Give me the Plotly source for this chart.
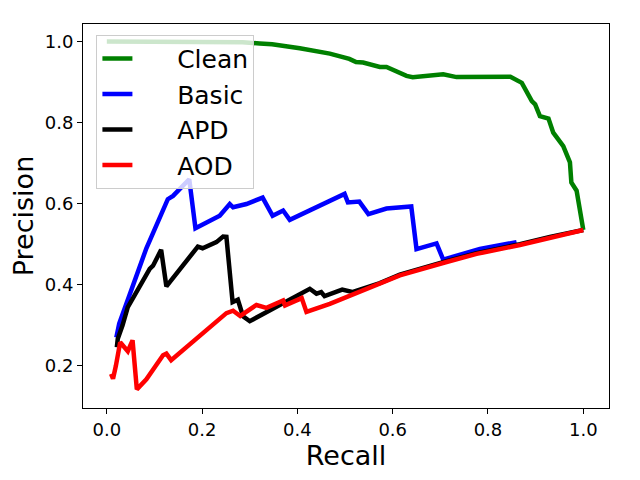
import plotly.graph_objects as go

# precision-recall curves
clean_recall = [0.0, 0.2, 0.285, 0.321, 0.347, 0.405, 0.468, 0.509, 0.523, 0.538, 0.573, 0.587,
                0.629, 0.642, 0.706, 0.734, 0.847, 0.871, 0.881, 0.892, 0.899, 0.909, 0.927,
                0.937, 0.958, 0.972, 0.975, 0.986, 1.0]
clean_precision = [1.0, 1.0, 0.998, 0.995, 0.993, 0.983, 0.970, 0.957, 0.949, 0.948, 0.937, 0.937,
                   0.915, 0.912, 0.919, 0.912, 0.913, 0.898, 0.878, 0.853, 0.845, 0.816, 0.810,
                   0.775, 0.742, 0.702, 0.652, 0.632, 0.535]

basic_recall = [0.020, 0.026, 0.083, 0.128, 0.139, 0.173, 0.186, 0.216, 0.237, 0.258, 0.265,
                0.293, 0.327, 0.348, 0.370, 0.384, 0.499, 0.506, 0.530, 0.549, 0.587, 0.639,
                0.650, 0.692, 0.706, 0.783, 0.860]
basic_precision = [0.270, 0.304, 0.490, 0.611, 0.619, 0.660, 0.539, 0.558, 0.570, 0.599, 0.591,
                   0.599, 0.615, 0.570, 0.583, 0.560, 0.624, 0.603, 0.605, 0.574, 0.588, 0.593,
                   0.488, 0.502, 0.462, 0.488, 0.505]

apd_recall = [0.021, 0.023, 0.033, 0.044, 0.054, 0.090, 0.097, 0.114, 0.125, 0.191, 0.201, 0.222,
              0.230, 0.244, 0.251, 0.264, 0.275, 0.286, 0.300, 0.426, 0.440, 0.450, 0.457, 0.494,
              0.515, 0.573, 0.615, 0.713, 0.776, 0.867, 0.93, 1.0]
apd_precision = [0.246, 0.267, 0.300, 0.345, 0.365, 0.439, 0.447, 0.486, 0.396, 0.494, 0.490, 0.501,
                 0.505, 0.519, 0.518, 0.357, 0.363, 0.322, 0.310, 0.390, 0.378, 0.382, 0.372, 0.388,
                 0.382, 0.404, 0.425, 0.458, 0.478, 0.500, 0.518, 0.535]

aod_recall = [0.009, 0.013, 0.019, 0.028, 0.044, 0.054, 0.063, 0.083, 0.118, 0.125, 0.135, 0.251,
              0.265, 0.280, 0.314, 0.335, 0.370, 0.374, 0.409, 0.419, 0.468, 0.573, 0.615, 0.713,
              0.776, 0.867, 0.93, 1.0]
aod_precision = [0.180, 0.168, 0.200, 0.258, 0.236, 0.263, 0.142, 0.167, 0.226, 0.230, 0.214, 0.330,
                 0.336, 0.323, 0.350, 0.343, 0.361, 0.349, 0.367, 0.333, 0.353, 0.402, 0.423, 0.456,
                 0.476, 0.498, 0.516, 0.535]

series_names = ['Clean', 'Basic', 'APD', 'AOD']

font = "DejaVu Sans"
pad = '\u00a0' * 5  # push legend text right, matplotlib handles are longer

fig = go.Figure()
fig.add_trace(go.Scatter(x=clean_recall, y=clean_precision, mode='lines', name=pad + series_names[0],
                         line=dict(color='green', width=4.5)))
fig.add_trace(go.Scatter(x=basic_recall, y=basic_precision, mode='lines', name=pad + series_names[1],
                         line=dict(color='blue', width=4.5)))
fig.add_trace(go.Scatter(x=apd_recall, y=apd_precision, mode='lines', name=pad + series_names[2],
                         line=dict(color='black', width=4.5)))
fig.add_trace(go.Scatter(x=aod_recall, y=aod_precision, mode='lines', name=pad + series_names[3],
                         line=dict(color='red', width=4.5)))

axis_style = dict(showline=True, linecolor='black', linewidth=1, mirror=True,
                  ticks='outside', ticklen=5, tickwidth=1, tickcolor='black',
                  showgrid=False, zeroline=False, automargin=False,
                  tickfont=dict(family=font, size=18, color='black'))

fig.update_xaxes(range=[-0.05, 1.054], dtick=0.2, tickformat='.1f',
                 title=dict(text='Recall', font=dict(family=font, size=27, color='black'), standoff=4),
                 **axis_style)
fig.update_yaxes(range=[0.096, 1.043], dtick=0.2, tickformat='.1f',
                 title=dict(text='Precision', font=dict(family=font, size=27, color='black'), standoff=6),
                 **axis_style)

# page body adds an 8px offset, so the figure is a bit smaller than the window
fig.update_layout(
    width=624, height=464,
    margin=dict(l=75, r=23, t=16, b=64),
    plot_bgcolor='white', paper_bgcolor='white',
    font=dict(family=font, color='black'),
    legend=dict(x=0.0255, y=0.972, xanchor='left', yanchor='top',
                bgcolor='rgba(255,255,255,0.8)', bordercolor='#cccccc', borderwidth=1,
                font=dict(family=font, size=25, color='black'), tracegroupgap=0),
)

fig.write_html("out.html")
